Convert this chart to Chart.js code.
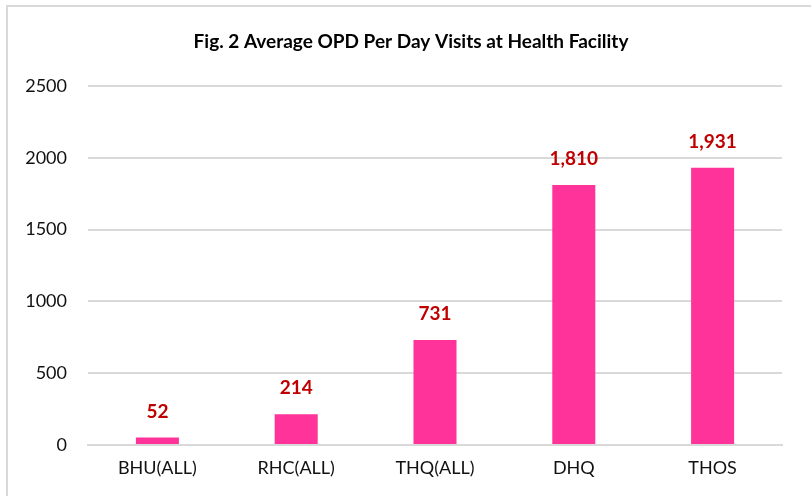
<!DOCTYPE html>
<html>
<head>
<meta charset="utf-8">
<script src="https://cdn.jsdelivr.net/npm/chart.js@4/dist/chart.umd.min.js"></script>
<style>
  html, body { margin:0; padding:0; background:#fff; }
  #frame { position:absolute; left:6px; top:5px; width:805px; height:491px;
           border-left:2px solid #d9d9d9; border-top:2px solid #d9d9d9; box-sizing:border-box; }
  #wrap { position:absolute; left:0; top:0; width:811px; height:496px; }
</style>
</head>
<body>
<div id="frame"></div>
<div id="wrap"><canvas id="chart" width="811" height="496"></canvas></div>
<script>
(function(){
  'use strict';

  // data
  const categories = ['BHU(ALL)', 'RHC(ALL)', 'THQ(ALL)', 'DHQ', 'THOS'];
  const visits = [52, 214, 731, 1810, 1931];
  const yTicks = [0, 500, 1000, 1500, 2000, 2500];
  const chartTitle = 'Fig. 2 Average OPD Per Day Visits at Health Facility';

  const FONT = 'Lato, "Open Sans", sans-serif';

  // draws the title and the value labels above each bar
  const labelsPlugin = {
    id: 'barLabels',
    afterDatasetsDraw(chart){
      const ctx = chart.ctx;
      ctx.save();
      ctx.fillStyle = '#000';
      ctx.font = 'bold 19px ' + FONT;
      ctx.textAlign = 'center';
      ctx.textBaseline = 'middle';
      ctx.fillText(chartTitle, 411, 42);

      ctx.fillStyle = '#c00000';
      ctx.font = 'bold 19px ' + FONT;
      const meta = chart.getDatasetMeta(0);
      meta.data.forEach((bar, i) => {
        ctx.fillText(visits[i].toLocaleString('en-US'), bar.x, bar.y - 26);
      });
      ctx.restore();
    }
  };

  new Chart(document.getElementById('chart').getContext('2d'), {
    type: 'bar',
    data: {
      labels: categories,
      datasets: [{
        data: visits,
        backgroundColor: '#ff3399',
        categoryPercentage: 1,
        barPercentage: 0.31
      }]
    },
    options: {
      responsive: false,
      animation: false,
      layout: { padding: { top: 86, right: 29, left: 0, bottom: 0 } },
      plugins: { legend: { display: false }, title: { display: false }, tooltip: { enabled: false } },
      scales: {
        x: {
          grid: { display: false, drawTicks: false },
          border: { color: '#d9d9d9', width: 2 },
          ticks: { color: '#111', font: { family: FONT, size: 18 }, padding: 12 },
          afterFit(s){ s.height = 51; }
        },
        y: {
          min: 0, max: 2500,
          afterBuildTicks(s){ s.ticks = yTicks.map(v => ({ value: v })); },
          grid: { color: '#d9d9d9', lineWidth: 2, drawTicks: false },
          border: { display: false },
          ticks: { color: '#111', font: { family: FONT, size: 18 }, padding: 21,
                   callback: v => String(v) },
          afterFit(s){ s.width = 88; }
        }
      }
    },
    plugins: [labelsPlugin]
  });
})();
</script>
</body>
</html>
